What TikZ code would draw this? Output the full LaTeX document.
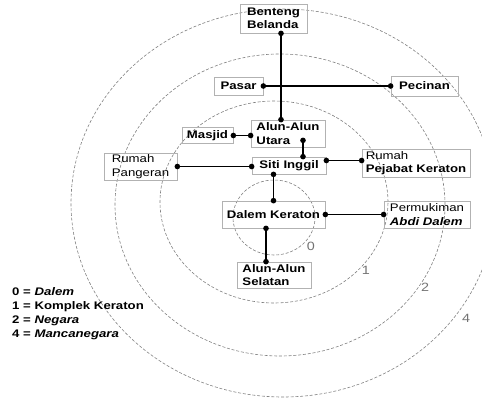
\documentclass[tikz,border=0pt]{standalone}
\usepackage{fontspec}
\setmainfont{Liberation Sans}[FakeStretch=1.2]
\usetikzlibrary{arrows.meta, calc}

\begin{document}
\begin{tikzpicture}[
    x=1pt, y=1pt,
    ring/.style={draw=gray, line width=0.6pt, dash pattern=on 3pt off 1.8pt},
    site/.style={rectangle, draw=gray!60, line width=0.7pt, inner sep=0pt, minimum height=17pt, align=left, font=\fontsize{11}{13.5}\selectfont\bfseries},
    sitelight/.style={site, font=\fontsize{11}{13.5}\selectfont},
    link/.style={line width=1.3pt, {Circle[length=5.5pt]}-{Circle[length=5.5pt]}, shorten <=-2.75pt, shorten >=-2.75pt},
    zone/.style={text=gray!90!black, font=\fontsize{12}{14}\selectfont},
    every node/.style={font=\fontsize{11}{13.5}\selectfont}
]
\useasboundingbox (0,0) rectangle (482,-397);

% Rings
\draw[ring] (283,-203) ellipse [x radius=212pt, y radius=194pt];
\draw[ring] (280,-205) ellipse [x radius=165pt, y radius=151pt];
\draw[ring] (274,-202) ellipse [x radius=114pt, y radius=101pt];
\draw[ring] (274,-217.5) ellipse [x radius=41pt, y radius=37.5pt];

% Nodes
\node[site, minimum width=67pt, minimum height=29pt] (benteng) at (273.5,-18.5) {Benteng\\Belanda};
\node[site, minimum width=49pt, minimum height=18pt] (pasar) at (238.5,-86) {Pasar};
\node[site, minimum width=67pt, minimum height=20pt] (pecinan) at (424.5,-86) {Pecinan};
\node[site, minimum width=51pt, minimum height=16pt] (masjid) at (207.5,-135.5) {Masjid};
\node[site, minimum width=74pt, minimum height=27pt] (utara) at (288,-133.5) {Alun-Alun\\Utara};
\node[site, minimum width=74pt] (siti) at (289,-165.5) {Siti Inggil};
\node[sitelight, minimum width=73pt, minimum height=27pt] (pangeran) at (140.5,-166.5) {Rumah\\Pangeran};
\node[site, minimum width=108pt, minimum height=28pt] (pejabat) at (416,-163) {\textmd{Rumah}\\Pejabat Keraton};
\node[site, minimum width=103pt, minimum height=27pt] (dalem) at (273.5,-214.5) {Dalem Keraton};
\node[sitelight, minimum width=86pt, minimum height=27pt] (permukiman) at (427,-214.5) {Permukiman\\\textbf{\textit{Abdi Dalem}}};
\node[site, minimum width=74pt, minimum height=26pt] (selatan) at (274,-275) {Alun-Alun\\Selatan};

% Edges
\draw[link] ($(benteng.south)+(7.5,0)$) -- ($(utara.north)+(-7,0)$);
\draw[link] (pasar.east) -- (pecinan.west);
\draw[link] (masjid.east) -- (masjid.east -| utara.west);
\draw[link] ($(utara.south)+(15,7)$) -- ($(siti.north)+(14,0)$);
\draw[link] (pangeran.east) -- (pangeran.east -| siti.west);
\draw[link] ($(siti.east)+(0,5)$) -- ($(pejabat.west)+(0,2.5)$);
\draw[link] (siti.south -| dalem.north) -- (dalem.north);
\draw[link] (dalem.east) -- (permukiman.west);
\draw[link] ($(dalem.south)+(-7.5,0)$) -- ($(selatan.north)+(-8,0)$);

% Ring numbers
\node[zone] (z0) at (311,-246) {0};
\node[zone] (z1) at (366,-270) {1};
\node[zone] (z2) at (425,-287) {2};
\node[zone] (z4) at (466,-318) {4};

% Legend
\node[anchor=north west, inner sep=0pt, align=left, font=\fontsize{11}{14}\selectfont\bfseries] (legend) at (12,-287) {0 = \textit{Dalem}\\1 = Komplek Keraton\\2 = \textit{Negara}\\4 = \textit{Mancanegara}};

\end{tikzpicture}
\end{document}
